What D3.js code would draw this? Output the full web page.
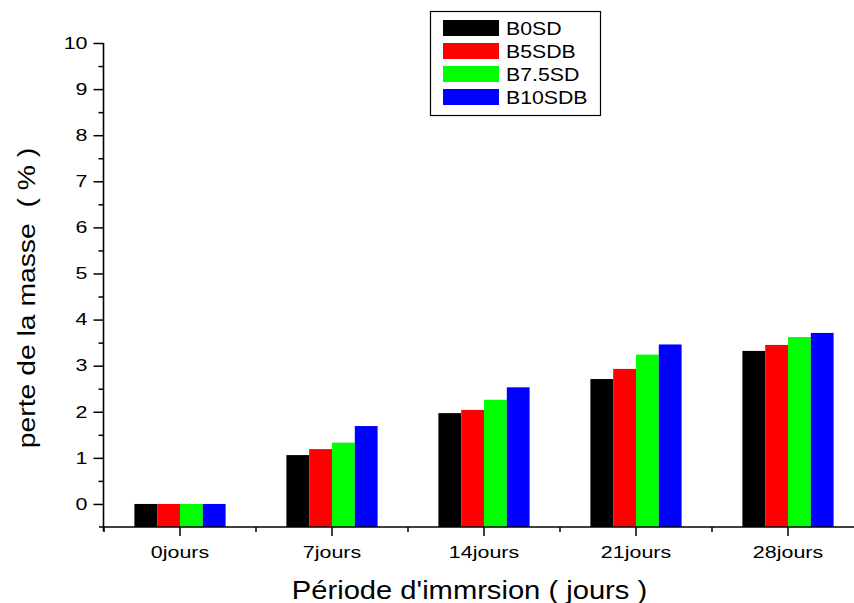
<!DOCTYPE html>
<html><head><meta charset="utf-8">
<script src="https://cdn.jsdelivr.net/npm/d3@7"></script>
<style>body{margin:0;background:#fff}svg{display:block}text{font-family:"Liberation Sans",Arial,sans-serif}</style>
</head><body>
<svg id="c" width="854" height="603"></svg>
<script>
const categories = ["0jours","7jours","14jours","21jours","28jours"];
const seriesNames = ["B0SD","B5SDB","B7.5SD","B10SDB"];
const seriesColors = ["#000000","#ff0000","#00ff00","#0000ff"];
const B0SD   = [0, 1.06, 1.97, 2.71, 3.32];
const B5SDB  = [0, 1.19, 2.04, 2.93, 3.45];
const B75SD  = [0, 1.33, 2.26, 3.24, 3.62];
const B10SDB = [0, 1.69, 2.53, 3.46, 3.71];
const seriesValues = [B0SD, B5SDB, B75SD, B10SDB];
const yTicks = [0,1,2,3,4,5,6,7,8,9,10];
const yMinorTicks = [0.5,1.5,2.5,3.5,4.5,5.5,6.5,7.5,8.5,9.5];

const svg = d3.select("#c");
const y = d3.scaleLinear().domain([-0.5, 10]).range([527, 43]);
const x = d3.scaleBand().domain(categories).range([104, 864]).padding(0);
const xs = d3.scaleBand().domain(seriesNames).range([x.bandwidth()*0.2, x.bandwidth()*0.8]).padding(0);

// bars
seriesNames.forEach((s, si) => {
  svg.append("g").selectAll("rect").data(categories).join("rect")
    .attr("x", (c) => x(c) + xs(s))
    .attr("width", xs.bandwidth())
    .attr("y", (c, i) => y(seriesValues[si][i]))
    .attr("height", (c, i) => y(-0.5) - y(seriesValues[si][i]))
    .attr("fill", seriesColors[si]);
});

const tickSX = 1.3;
const tickFS = 16.5;
// y axis
const yAxis = svg.append("g").attr("transform", "translate(103.5,0)")
  .call(d3.axisLeft(y).tickValues(yTicks).tickSize(10).tickPadding(6).tickFormat(d3.format("d")));
yAxis.select(".domain").attr("d", "M0,43V531").attr("stroke-width", 1.6);
yAxis.selectAll(".tick line").attr("stroke-width", 1.5);
yAxis.selectAll("text").attr("font-size", tickFS).attr("fill", "#000")
  .attr("x", -16 / tickSX).attr("transform", `scale(${tickSX},1)`);
const yMinor = svg.append("g").attr("transform", "translate(103.5,0)")
  .call(d3.axisLeft(y).tickValues(yMinorTicks).tickSize(5).tickFormat(""));
yMinor.select(".domain").remove();
yMinor.selectAll(".tick line").attr("stroke-width", 1.5);

// x axis
const xAxis = svg.append("g").attr("transform", "translate(0,527)")
  .call(d3.axisBottom(x).tickSize(9).tickPadding(10));
xAxis.select(".domain").attr("d", "M99,0H864").attr("stroke-width", 1.6);
xAxis.selectAll(".tick line").attr("stroke-width", 1.5);
xAxis.selectAll("text").attr("font-size", tickFS).attr("fill", "#000")
  .attr("transform", `scale(${tickSX},1)`);
const xMinor = svg.append("g").attr("transform", "translate(0,527)");
xMinor.selectAll("line").data(categories.map(c => x(c)).concat([x.range()[1]])).join("line")
  .attr("x1", d => d).attr("x2", d => d).attr("y1", 0).attr("y2", 5)
  .attr("stroke", "#000").attr("stroke-width", 1.5);

// axis titles
svg.append("text").attr("transform", "translate(469.5,598.5) scale(1.1,1)").attr("text-anchor", "middle")
  .attr("font-size", 26.5).text("Période d'immrsion ( jours )");
svg.append("text").attr("transform", "translate(35,298) rotate(-90) scale(1.18,1)").attr("text-anchor", "middle")
  .attr("font-size", 24).attr("xml:space", "preserve").style("white-space", "pre")
  .text("perte de la masse  ( % )");

// legend
const lg = svg.append("g");
lg.append("rect").attr("x", 430.5).attr("y", 11.5).attr("width", 170).attr("height", 104)
  .attr("fill", "#fff").attr("stroke", "#000").attr("stroke-width", 1.2);
seriesNames.forEach((s, i) => {
  const cy = 28 + i * 23;
  lg.append("rect").attr("x", 443).attr("y", cy - 8).attr("width", 56).attr("height", 16).attr("fill", seriesColors[i]);
  lg.append("text").attr("transform", `translate(506,${cy + 6.7}) scale(1.15,1)`).attr("font-size", 18.5).text(s);
});
</script>
</body></html>
